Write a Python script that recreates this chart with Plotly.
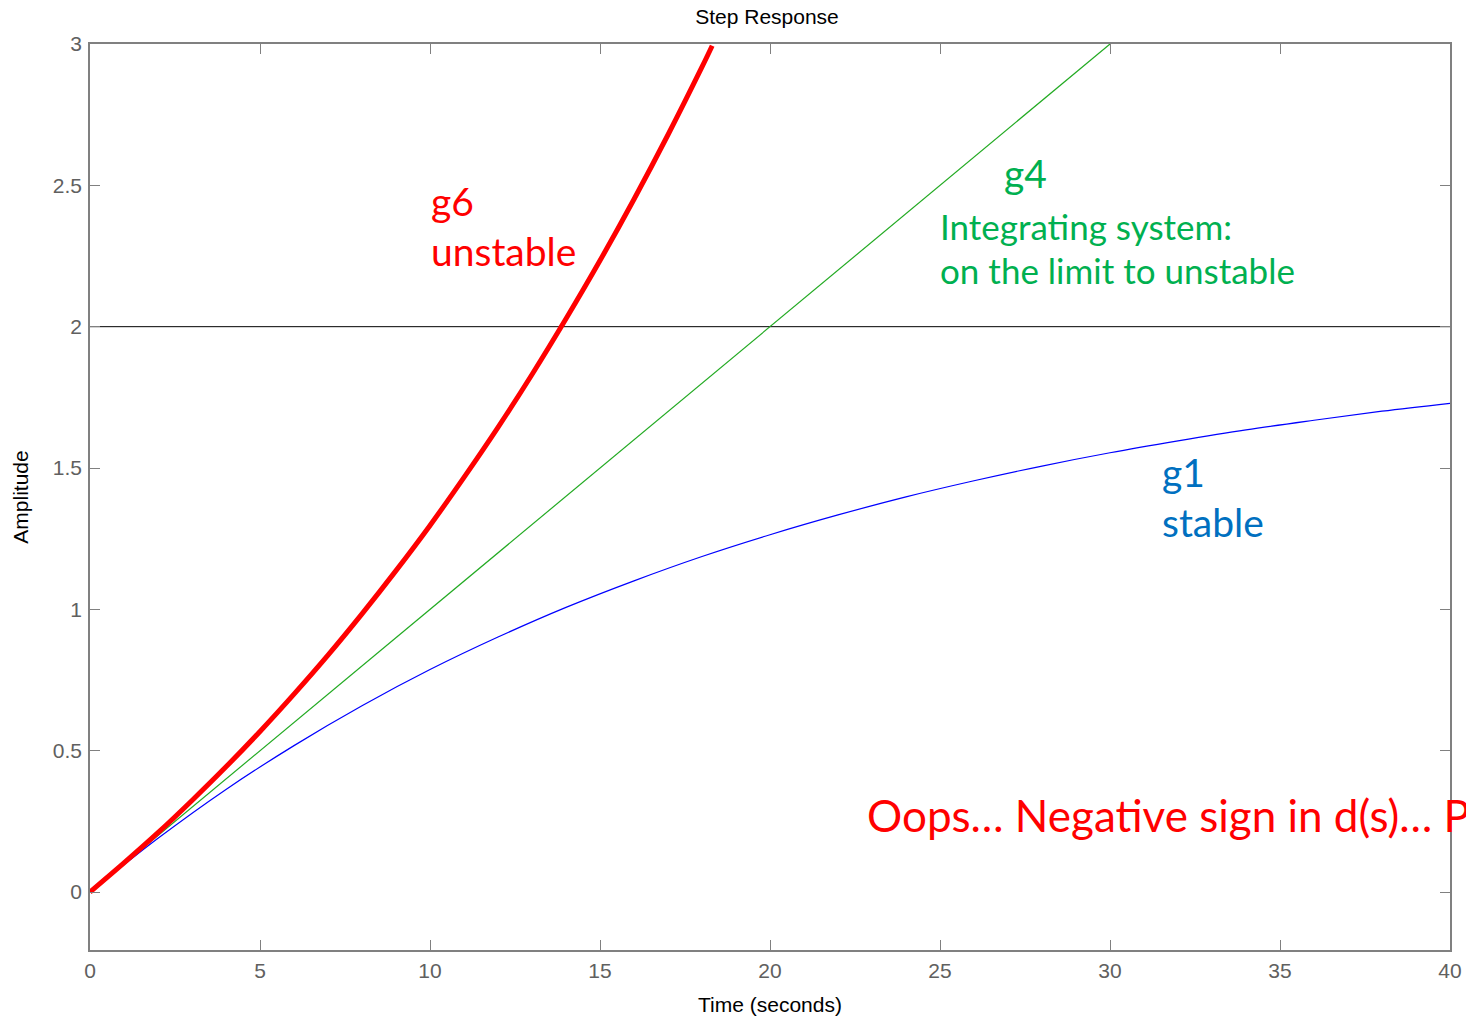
import plotly.graph_objects as go

# ---- data ----
t_g1 = [0, 2, 4, 6, 8, 10, 12, 14, 16, 18, 20, 22, 24, 26, 28, 30, 32, 34, 36, 38, 40]
y_g1 = [0, 0.190, 0.363, 0.518, 0.659, 0.787, 0.902, 1.007, 1.101, 1.187, 1.264, 1.334,
        1.398, 1.455, 1.507, 1.554, 1.596, 1.635, 1.669, 1.701, 1.729]

t_g4 = [0, 5, 10, 15, 20, 25, 30]
y_g4 = [0, 0.5, 1.0, 1.5, 2.0, 2.5, 3.0]

t_g6 = [0, 1, 2, 3, 4, 5, 6, 7, 8, 9, 10, 11, 12, 13, 14, 15, 16, 17, 18, 18.3]
y_g6 = [0, 0.103, 0.210, 0.324, 0.443, 0.568, 0.700, 0.838, 0.984, 1.137, 1.297, 1.467,
        1.644, 1.831, 2.028, 2.234, 2.451, 2.679, 2.919, 2.994]

ref_t = [0, 40]
ref_y = [2, 2]

x_ticks = [0, 5, 10, 15, 20, 25, 30, 35, 40]
y_ticks = [0, 0.5, 1, 1.5, 2, 2.5, 3]

# ---- figure ----
W, H = 1466, 1021
L, R, T, B = 90, 16, 44, 71
pw, ph = W - L - R, H - T - B


def px(x):
    return (x - L) / pw


def py(y):
    return (H - B - y) / ph


fig = go.Figure()
fig.add_trace(go.Scatter(x=ref_t, y=ref_y, mode="lines",
                         line=dict(color="black", width=1), showlegend=False))
fig.add_trace(go.Scatter(x=t_g1, y=y_g1, mode="lines", line_shape="spline",
                         line=dict(color="#0000ff", width=1.2), showlegend=False))
fig.add_trace(go.Scatter(x=t_g4, y=y_g4, mode="lines",
                         line=dict(color="#22aa22", width=1.2), showlegend=False))
fig.add_trace(go.Scatter(x=t_g6, y=y_g6, mode="lines", line_shape="spline",
                         line=dict(color="#ff0000", width=5), showlegend=False))

AX_FONT = "Liberation Sans, Arial"
axis_common = dict(
    showline=True, linecolor="#808080", linewidth=1.5, mirror="ticks",
    ticks="inside", ticklen=10, tickwidth=1, tickcolor="#808080",
    showgrid=False, zeroline=False,
    tickfont=dict(family=AX_FONT, size=21, color="#606060"),
)

fig.update_layout(
    width=W, height=H,
    margin=dict(l=L, r=R, t=T, b=B, autoexpand=False),
    paper_bgcolor="white", plot_bgcolor="white",
    title=dict(text="Step Response", x=0.4978, xref="paper", xanchor="center",
               y=1 - 17 / H, yref="container", yanchor="middle",
               font=dict(family=AX_FONT, size=21, color="black")),
    xaxis=dict(range=[0, 40], tickvals=x_ticks, ticklabelstandoff=1,
               title=dict(text="Time (seconds)", standoff=16,
                          font=dict(family=AX_FONT, size=21, color="black")),
               **axis_common),
    yaxis=dict(range=[-0.205, 3.0], tickvals=y_ticks, ticklabelstandoff=2,
               title=dict(text="Amplitude", standoff=18,
                          font=dict(family=AX_FONT, size=21, color="black")),
               **axis_common),
)

FONT = "Lato, Open Sans, sans-serif"
notes = [
    ("g6", 429, 201, 39, "#ff0000"),
    ("unstable", 429, 251, 39, "#ff0000"),
    ("g4", 1002, 173, 39, "#00b050"),
    ("Integrating system:", 938, 226, 35, "#00b050"),
    ("on the limit to unstable", 938, 270, 35, "#00b050"),
    ("g1", 1160, 472, 39, "#0070c0"),
    ("stable", 1160, 522, 39, "#0070c0"),
    ("Oops… Negative sign in d(s)… P", 865, 815, 44, "#ff0000"),
]
for text, x, y, size, color in notes:
    fig.add_annotation(text=text, xref="paper", yref="paper", x=px(x), y=py(y),
                       xanchor="left", yanchor="middle", showarrow=False,
                       font=dict(family=FONT, size=size, color=color))

fig.write_html("out.html")
